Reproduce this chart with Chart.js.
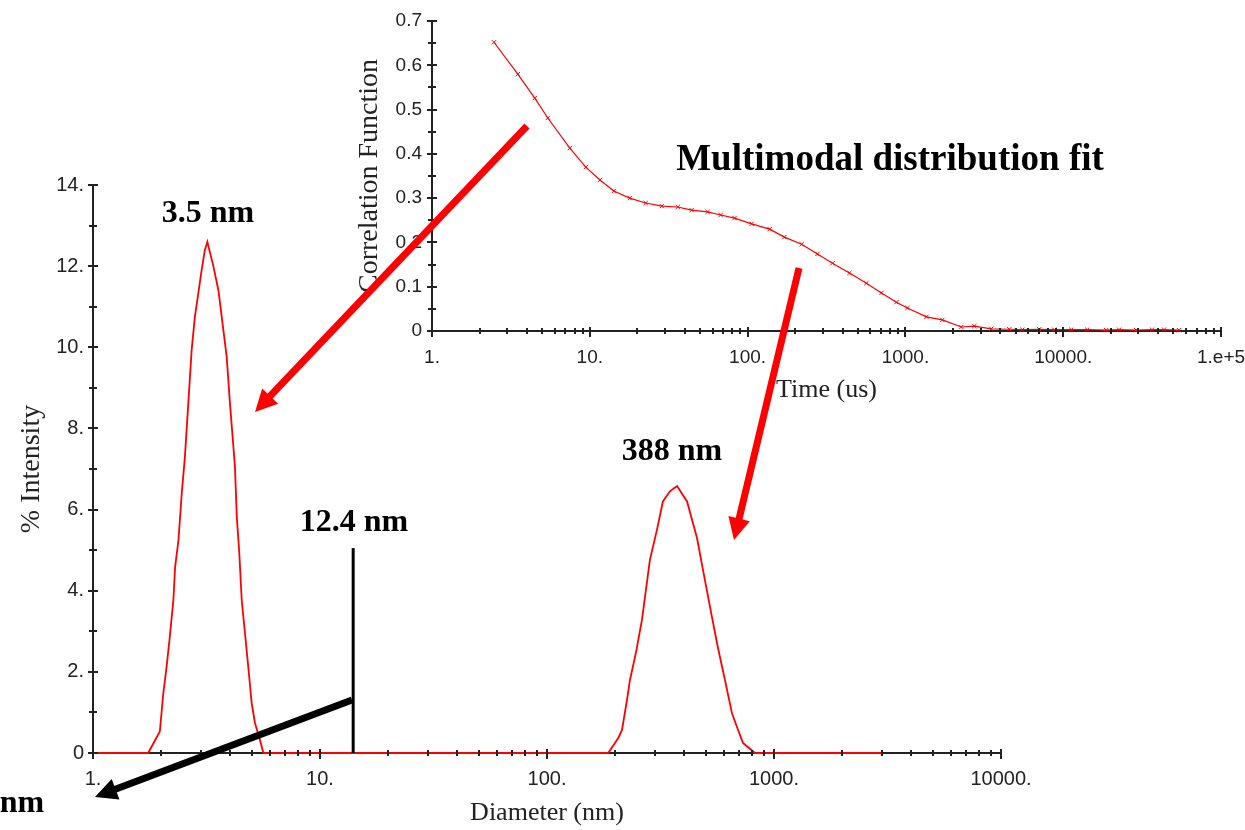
<!DOCTYPE html>
<html><head><meta charset="utf-8">
<script src="https://cdn.jsdelivr.net/npm/chart.js@4.4.1/dist/chart.umd.min.js"></script>
<style>
html,body{margin:0;padding:0;background:#fff;}
#wrap{position:relative;width:1245px;height:830px;overflow:hidden;background:#fff;}
canvas{position:absolute;left:0;top:0;}
</style></head><body>
<div id="wrap"><canvas id="main" width="1245" height="830"></canvas><canvas id="inset" width="1245" height="830"></canvas></div>
<script>
// ---- Size distribution (main chart) ----
const diameterNm = [1, 1.75, 1.97, 2.04, 2.11, 2.18, 2.26, 2.30, 2.38, 2.46, 2.54, 2.63, 2.72, 2.81, 2.91, 3.01, 3.11, 3.19, 3.39, 3.57, 3.69, 3.88, 4.01, 4.22, 4.30, 4.41, 4.52, 4.67, 4.83, 5.00, 5.17, 5.44, 5.63,
  186, 206, 214, 225, 232, 247, 262, 284, 305, 324, 348, 374, 414, 458, 487, 533, 566, 608, 653, 687, 730, 825, 2990];
const intensityPct = [0, 0, 0.53, 1.47, 2.13, 2.87, 3.77, 4.59, 5.25, 6.40, 7.3, 8.63, 9.93, 10.75, 11.33, 11.9, 12.4, 12.6, 12.0, 11.4, 10.75, 9.77, 8.63, 7.06, 5.82, 4.93, 3.77, 2.96, 2.13, 1.23, 0.74, 0.32, 0,
  0, 0.37, 0.57, 1.3, 1.8, 2.5, 3.28, 4.76, 5.5, 6.2, 6.45, 6.58, 6.2, 5.3, 4.5, 3.35, 2.6, 1.8, 0.98, 0.64, 0.25, 0, 0];
const markerDiameterNm = [14, 14];
const markerIntensity = [0, 5.05];

// ---- Correlation function (inset) ----
const timeUs = [2.47, 3.50, 4.48, 5.42, 7.47, 9.43, 11.6, 14.2, 17.9, 22.6, 28.6, 36.1, 44.2, 55.8, 67.5, 82.7, 106, 138, 171, 220, 277, 345, 442, 566, 705, 877, 1030, 1359, 1715, 2260, 2733, 3500, 4550, 5505, 7050, 8770, 11240, 14190, 18710, 22610, 28960, 36560, 43550, 54200];
const correlation = [0.652, 0.580, 0.526, 0.481, 0.413, 0.370, 0.341, 0.316, 0.300, 0.289, 0.282, 0.280, 0.273, 0.269, 0.262, 0.255, 0.242, 0.230, 0.212, 0.196, 0.174, 0.153, 0.131, 0.108, 0.086, 0.065, 0.052, 0.032, 0.025, 0.009, 0.011, 0.005, 0.004, 0.003, 0.004, 0.003, 0.003, 0.003, 0.002, 0.003, 0.002, 0.003, 0.003, 0.002];

// ---- Tick labels ----
const mainXLabels = ['1.', '10.', '100.', '1000.', '10000.'];
const mainYLabels = ['0', '2.', '4.', '6.', '8.', '10.', '12.', '14.'];
const insetXLabels = ['1.', '10.', '100.', '1000.', '10000.', '1.e+5'];
const insetYLabels = ['0', '0.1', '0.2', '0.3', '0.4', '0.5', '0.6', '0.7'];

// ---- Annotations ----
const peakLabels = [
  {text: '3.5 nm', x: 208, y: 222},
  {text: '388 nm', x: 672, y: 460},
  {text: '12.4 nm', x: 354, y: 531},
  {text: 'nm', x: 22, y: 812},
];
const titleText = {text: 'Multimodal distribution fit', x: 890, y: 170};
const arrows = [
  {from: [527, 126], to: [255, 412], color: '#ff0000'},
  {from: [799, 268], to: [734, 540], color: '#ff0000'},
  {from: [352, 700], to: [95, 797], color: '#000000'},
];

function decadeTicks(maxExp) {
  const v = [];
  for (let e = 0; e < maxExp; e++) for (let m = 1; m < 10; m++) v.push(m * Math.pow(10, e));
  v.push(Math.pow(10, maxExp));
  return v;
}
function isDecade(v) { const l = Math.log10(v); return Math.abs(l - Math.round(l)) < 1e-9; }

const AXIS = '#222';
const SANS = "'Liberation Sans', Arial, sans-serif";
const SERIF = "'Liberation Serif', 'Times New Roman', serif";

const crossTicks = {
  id: 'crossTicks',
  afterDatasetsDraw(chart, args, opts) {
    const ctx = chart.ctx, xs = chart.scales.x, ys = chart.scales.y;
    ctx.save();
    ctx.strokeStyle = AXIS; ctx.lineWidth = 2;
    ctx.beginPath();
    xs.ticks.forEach(t => {
      const p = Math.round(xs.getPixelForValue(t.value));
      const major = isDecade(t.value);
      ctx.moveTo(p, xs.top - (major ? 4 : 3));
      ctx.lineTo(p, xs.top + (major ? 6 : 3));
    });
    ys.ticks.forEach(t => {
      const p = Math.round(ys.getPixelForValue(t.value));
      const major = opts.yMajor(t.value);
      ctx.moveTo(ys.right - (major ? 5 : 4), p);
      ctx.lineTo(ys.right + (major ? 5 : 4), p);
    });
    ctx.stroke();
    ctx.restore();
  }
};

function drawArrow(ctx, a) {
  const [x1, y1] = a.from, [x2, y2] = a.to;
  const ang = Math.atan2(y2 - y1, x2 - x1);
  const hl = 22, hw = 22;
  const bx = x2 - hl * Math.cos(ang), by = y2 - hl * Math.sin(ang);
  ctx.strokeStyle = a.color; ctx.fillStyle = a.color; ctx.lineWidth = 7; ctx.lineCap = 'butt';
  ctx.beginPath(); ctx.moveTo(x1, y1); ctx.lineTo(bx + Math.cos(ang), by + Math.sin(ang)); ctx.stroke();
  ctx.beginPath(); ctx.moveTo(x2, y2);
  ctx.lineTo(bx + hw / 2 * Math.sin(ang), by - hw / 2 * Math.cos(ang));
  ctx.lineTo(bx - hw / 2 * Math.sin(ang), by + hw / 2 * Math.cos(ang));
  ctx.closePath(); ctx.fill();
}

const overlay = {
  id: 'overlay',
  afterDraw(chart) {
    const ctx = chart.ctx;
    ctx.save();
    ctx.fillStyle = '#000';
    ctx.textAlign = 'center'; ctx.textBaseline = 'alphabetic';
    ctx.font = 'bold 32px ' + SERIF;
    peakLabels.forEach(l => ctx.fillText(l.text, l.x, l.y));
    ctx.font = 'bold 37px ' + SERIF;
    ctx.fillText(titleText.text, titleText.x, titleText.y);
    arrows.forEach(a => drawArrow(ctx, a));
    ctx.restore();
  }
};

function fixSize(prop, val) {
  return function (scale) {
    scale[prop] = val;
    scale.paddingLeft = 0; scale.paddingRight = 0; scale.paddingTop = 0; scale.paddingBottom = 0;
  };
}

new Chart(document.getElementById('main'), {
  type: 'line',
  data: {
    datasets: [
      {data: markerDiameterNm.map((d, i) => ({x: d, y: markerIntensity[i]})), borderColor: '#000', borderWidth: 3, pointRadius: 0, clip: false},
      {data: diameterNm.map((d, i) => ({x: d, y: intensityPct[i]})), borderColor: '#ff0000', borderWidth: 1.8, pointRadius: 0, clip: false, tension: 0},
    ]
  },
  options: {
    responsive: false, animation: false, events: [],
    layout: {padding: {left: 0, right: 244, top: 185, bottom: 0}},
    plugins: {legend: {display: false}, tooltip: {enabled: false}, crossTicks: {yMajor: v => Math.round(v) % 2 === 0}},
    scales: {
      x: {
        type: 'logarithmic', min: 1, max: 10000,
        afterBuildTicks: s => { s.ticks = decadeTicks(4).map(v => ({value: v})); },
        afterFit: fixSize('height', 77),
        grid: {display: false, drawTicks: false},
        border: {display: true, color: AXIS, width: 2},
        ticks: {autoSkip: false, maxRotation: 0, padding: 14, color: AXIS, font: {family: SANS, size: 20},
          callback: v => isDecade(v) ? mainXLabels[Math.round(Math.log10(v))] : ''},
        title: {display: true, text: 'Diameter (nm)', color: '#222', font: {family: SERIF, size: 26}, padding: {top: 0, bottom: 1}}
      },
      y: {
        min: 0, max: 14,
        afterBuildTicks: s => { const t = []; for (let i = 0; i <= 14; i++) t.push({value: i}); s.ticks = t; },
        afterFit: fixSize('width', 93),
        grid: {display: false, drawTicks: false},
        border: {display: true, color: AXIS, width: 2},
        ticks: {autoSkip: false, padding: 9, color: AXIS, font: {family: SANS, size: 20},
          callback: v => (Math.round(v) % 2 === 0) ? mainYLabels[Math.round(v) / 2] : ''},
        title: {display: true, text: '% Intensity', color: '#222', font: {family: SERIF, size: 28}, padding: {top: 15, bottom: 0}}
      }
    }
  },
  plugins: [crossTicks]
});

new Chart(document.getElementById('inset'), {
  type: 'line',
  data: {
    datasets: [
      {data: timeUs.map((t, i) => ({x: t, y: correlation[i]})), borderColor: '#ff0000', borderWidth: 1.2,
        pointStyle: 'crossRot', pointRadius: 3, pointBorderColor: '#ff0000', pointBorderWidth: 1, clip: false, tension: 0}
    ]
  },
  options: {
    responsive: false, animation: false, events: [],
    layout: {padding: {left: 330, right: 24, top: 21, bottom: 424}},
    plugins: {legend: {display: false}, tooltip: {enabled: false}, crossTicks: {yMajor: v => Math.round(v * 100) % 10 === 0}},
    scales: {
      x: {
        type: 'logarithmic', min: 1, max: 100000,
        afterBuildTicks: s => { s.ticks = decadeTicks(5).map(v => ({value: v})); },
        afterFit: fixSize('height', 75),
        grid: {display: false, drawTicks: false},
        border: {display: true, color: AXIS, width: 2},
        ticks: {autoSkip: false, maxRotation: 0, padding: 15, color: AXIS, font: {family: SANS, size: 19},
          callback: v => isDecade(v) ? insetXLabels[Math.round(Math.log10(v))] : ''},
        title: {display: true, text: 'Time (us)', color: '#222', font: {family: SERIF, size: 26}, padding: {top: 0, bottom: 0}}
      },
      y: {
        min: 0, max: 0.7,
        afterBuildTicks: s => { const t = []; for (let i = 0; i <= 14; i++) t.push({value: i * 0.05}); s.ticks = t; },
        afterFit: fixSize('width', 102),
        grid: {display: false, drawTicks: false},
        border: {display: true, color: AXIS, width: 2},
        ticks: {autoSkip: false, padding: 10, color: AXIS, font: {family: SANS, size: 19},
          callback: v => (Math.round(v * 100) % 10 === 0) ? insetYLabels[Math.round(v * 10)] : ''},
        title: {display: true, text: 'Correlation Function', color: '#222', font: {family: SERIF, size: 28}, padding: {top: 23, bottom: 0}}
      }
    }
  },
  plugins: [crossTicks, overlay]
});
</script>
</body></html>
